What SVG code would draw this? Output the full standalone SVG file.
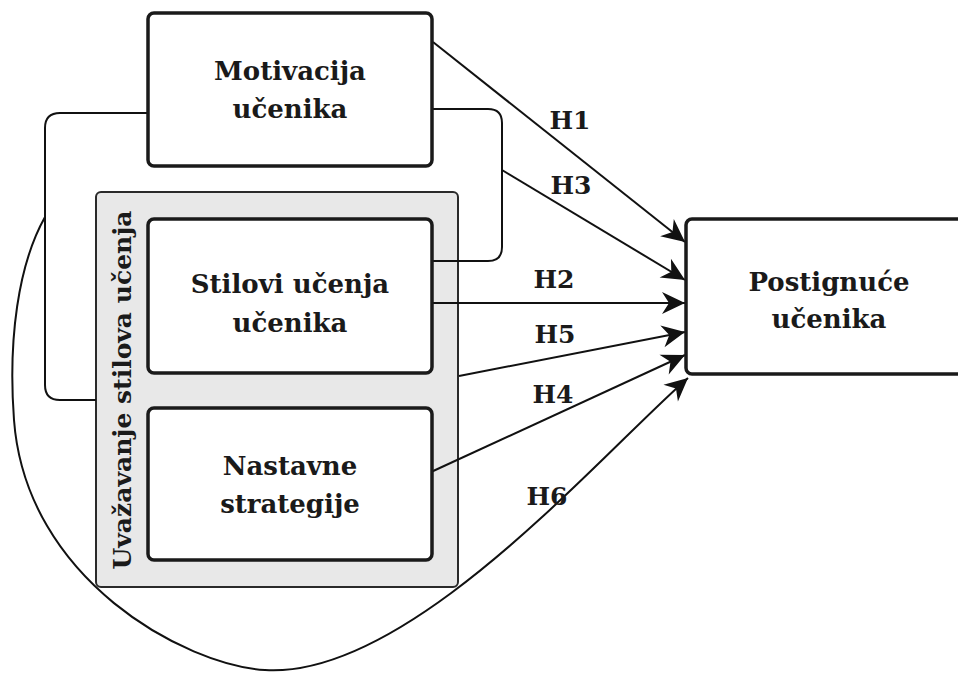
<svg xmlns="http://www.w3.org/2000/svg" width="958" height="673" viewBox="0 0 958 673">
<style>
.box{fill:#fff;stroke:#1a1a1a;stroke-width:3.5}
.grp{fill:#e8e8e8;stroke:#2a2a2a;stroke-width:2}
.t{font-family:"DejaVu Serif","Liberation Serif",serif;font-weight:bold;font-size:26px;fill:#1a1a1a;text-anchor:middle}
.lbl{font-size:25px}
.vt{font-size:25px}
.c{fill:none;stroke:#111;stroke-width:2}
</style>
<defs>
<marker id="arr" markerUnits="userSpaceOnUse" markerWidth="26" markerHeight="26" viewBox="-24 -13 26 26" refX="0" refY="0" orient="auto">
<path d="M0,0 L-23,-11 L-16,0 L-23,11 Z" fill="#111"/>
</marker>
</defs>
<rect width="958" height="673" fill="#fff"/>
<g id="group-uvazavanje">
<rect class="grp" x="96" y="192" width="362" height="395" rx="5"/>
<text class="t vt" transform="translate(131,390) rotate(-90)">Uvažavanje stilova učenja</text>
</g>
<g id="connectors">
<path class="c" d="M148,113 H60 Q45,113 45,128 V385 Q45,400 60,400 H96"/>
<path class="c" d="M432,109 H488 Q502,109 502,123 V247 Q502,261 488,261 H432"/>
<path class="c" d="M433,42 L685,242" marker-end="url(#arr)"/>
<path class="c" d="M502,170 L685,280" marker-end="url(#arr)"/>
<path class="c" d="M430,303 L685,303" marker-end="url(#arr)"/>
<path class="c" d="M459,376 L685,332" marker-end="url(#arr)"/>
<path class="c" d="M431,472 L685,355" marker-end="url(#arr)"/>
<path class="c" d="M45,217 C18,265 8,340 14,420 C26,580 185,665 265,670 C409,679 600,455 688,378" marker-end="url(#arr)"/>
</g>
<g id="node-motivacija">
<rect class="box" x="148" y="13" width="284" height="153" rx="6"/>
<text class="t" x="290" y="80">Motivacija</text>
<text class="t" x="290" y="118">učenika</text>
</g>
<g id="node-stilovi">
<rect class="box" x="148" y="219" width="284" height="154" rx="6"/>
<text class="t" x="290" y="293">Stilovi učenja</text>
<text class="t" x="290" y="332">učenika</text>
</g>
<g id="node-nastavne">
<rect class="box" x="148" y="408" width="284" height="152" rx="6"/>
<text class="t" x="290" y="475">Nastavne</text>
<text class="t" x="290" y="513">strategije</text>
</g>
<g id="node-postignuce">
<rect class="box" x="686" y="219" width="290" height="155" rx="6"/>
<text class="t" x="829" y="291">Postignuće</text>
<text class="t" x="829" y="328">učenika</text>
</g>
<g id="labels">
<text class="t lbl" x="570" y="129">H1</text>
<text class="t lbl" x="571" y="194">H3</text>
<text class="t lbl" x="554" y="288">H2</text>
<text class="t lbl" x="555" y="343">H5</text>
<text class="t lbl" x="553" y="403">H4</text>
<text class="t lbl" x="547" y="505">H6</text>
</g>
</svg>
